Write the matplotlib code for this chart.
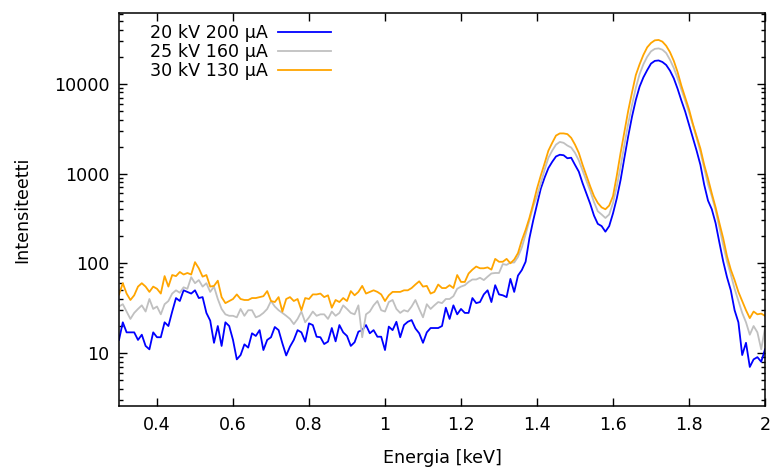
import numpy as np
import matplotlib
matplotlib.use('Agg')
import matplotlib.pyplot as plt
from matplotlib.ticker import LogLocator, NullFormatter, FixedLocator

# energy channels 0.30 ... 2.00 keV, 0.01 keV step
energy = np.linspace(0.30, 2.00, 171)

i_20kv = [
    14, 22, 17, 17, 17, 14, 16, 12, 11, 17,
    15, 15, 22, 20, 29, 41, 38, 50, 48, 46,
    50, 41, 42, 28, 23, 13, 20, 12, 22, 20,
    14, 8.5, 9.5, 12.5, 11.5, 16.6, 15.5, 18, 10.8, 14,
    15, 19.5, 18, 12.8, 9.4, 11.8, 14, 18, 17, 13.4,
    21.4, 20.5, 15.2, 15, 12.6, 13.4, 19, 13.5, 20.5, 17,
    15.5, 12, 13.2, 17.3, 18, 20.5, 16.6, 18, 15.2, 15.2,
    10.8, 19.7, 18, 22.3, 15, 20.5, 22.3, 23.3, 18.8, 16.6,
    13, 17, 19, 19, 19, 20, 32, 24, 34, 27,
    31, 28, 28, 41, 36, 37, 45, 50, 37, 57,
    45, 44, 42, 67, 48, 73, 84, 104, 190, 300,
    450, 680, 900, 1150, 1350, 1550, 1620, 1600, 1480, 1500,
    1250, 1050, 780, 600, 460, 340, 275, 260, 225, 260,
    360, 530, 850, 1500, 2600, 4300, 6600, 9300, 11800, 14200,
    16800, 18000, 18200, 17500, 16200, 14000, 11500, 8800, 6500, 4900,
    3500, 2500, 1800, 1250, 750, 500, 400, 280, 170, 105,
    70, 50, 30, 22, 9.5, 13, 7, 8.5, 9, 8, 11,
]

i_25kv = [
    33, 35, 29, 24, 28, 31, 34, 29, 40, 31,
    33, 27, 35, 38, 46, 50, 47, 54, 52, 70,
    60, 65, 55, 60, 48, 55, 40, 31, 27, 26,
    26, 25, 31, 26, 30, 30, 25, 26, 28, 31,
    38, 33, 30, 28, 26, 24, 21, 24, 29, 22,
    25, 29, 26, 27, 27, 24, 29, 26, 28, 34,
    31, 28, 27, 34, 15, 27, 29, 34, 38, 30,
    29, 37, 39, 31, 28, 30, 29, 33, 39, 31,
    25, 35, 31, 34, 37, 36, 40, 40, 43, 52,
    55, 57, 62, 66, 66, 69, 65, 71, 77, 78,
    78, 98, 96, 102, 102, 118, 150, 210, 300, 430,
    560, 780, 1100, 1500, 1800, 2100, 2250, 2200, 2050, 1950,
    1700, 1400, 1080, 830, 640, 480, 380, 350, 320, 350,
    470, 720, 1200, 2100, 3600, 5800, 9000, 12800, 16500, 20000,
    23000, 24500, 24800, 24000, 22000, 18500, 15000, 11500, 8600, 6500,
    4800, 3500, 2500, 1750, 1150, 760, 560, 390, 250, 160,
    105, 75, 52, 38, 28, 22, 16, 20, 17, 11, 19,
]

i_30kv = [
    45, 60, 46, 39, 44, 55, 60, 55, 48, 55,
    52, 46, 72, 55, 74, 72, 80, 75, 78, 75,
    103, 88, 71, 74, 55, 56, 64, 42, 36, 38,
    40, 45, 40, 39, 39, 41, 41, 42, 43, 49,
    38, 37, 42, 29, 40, 42, 38, 40, 30, 41,
    40, 45, 45, 46, 42, 44, 32, 39, 37, 41,
    38, 49, 44, 48, 56, 46, 48, 50, 48, 45,
    38, 44, 48, 48, 48, 50, 50, 53, 58, 63,
    55, 56, 46, 48, 58, 53, 53, 57, 53, 74,
    62, 62, 77, 85, 92, 88, 88, 90, 85, 112,
    104, 104, 112, 100, 110, 130, 180, 235, 320, 460,
    680, 950, 1300, 1800, 2200, 2650, 2800, 2800, 2750, 2500,
    2100, 1700, 1250, 950, 720, 560, 470, 420, 400, 440,
    560, 950, 1700, 2900, 5000, 8000, 12500, 16500, 21000, 25500,
    28500, 30500, 30800, 29500, 26500, 22500, 18000, 13500, 9500, 7000,
    5200, 3600, 2600, 1900, 1250, 880, 600, 420, 280, 190,
    120, 85, 65, 48, 38, 30, 24.5, 29, 27, 27.5, 26,
]

labels = ['20 kV 200 µA', '25 kV 160 µA', '30 kV 130 µA']
colors = ['#0000ff', '#c0c0c0', '#ffa500']

x_ticks = [0.4, 0.6, 0.8, 1.0, 1.2, 1.4, 1.6, 1.8, 2.0]
x_ticklabels = ['0.4', '0.6', '0.8', '1', '1.2', '1.4', '1.6', '1.8', '2']
y_ticks = [10, 100, 1000, 10000]

plt.rcParams['font.family'] = ['DejaVu Sans']
plt.rcParams['font.size'] = 12.6

fig = plt.figure(figsize=(7.73, 4.68), dpi=100)
ax = fig.add_axes([119 / 773, 1 - 406 / 468, (765 - 119) / 773, (406 - 13) / 468])

for y, lab, c in zip([i_20kv, i_25kv, i_30kv], labels, colors):
    ax.plot(energy, y, color=c, lw=1.3, label=lab)

ax.set_yscale('log')
ax.set_xlim(0.3, 2.0)
ax.set_ylim(2.57, 61500)

ax.xaxis.set_major_locator(FixedLocator(x_ticks))
ax.set_xticklabels(x_ticklabels)
ax.yaxis.set_major_locator(FixedLocator(y_ticks))
ax.set_yticklabels([str(v) for v in y_ticks])
ax.yaxis.set_minor_locator(LogLocator(base=10, subs=np.arange(2, 10)))
ax.yaxis.set_minor_formatter(NullFormatter())

ax.tick_params(which='both', direction='in', top=True, right=True, colors='black')
ax.tick_params(which='major', length=6, width=1, pad=7)
ax.tick_params(which='minor', length=3, width=1)
for s in ax.spines.values():
    s.set_linewidth(1.1)

ax.set_xlabel('Energia [keV]', labelpad=11)
ax.set_ylabel('Intensiteetti', labelpad=16)

ax.legend(loc='upper right', bbox_to_anchor=((342 - 119) / 646, 1.0), frameon=False,
          markerfirst=False, handlelength=3.0, handletextpad=0.6, labelspacing=0.05,
          borderaxespad=0.25)

fig.savefig('out.png', dpi=100)
